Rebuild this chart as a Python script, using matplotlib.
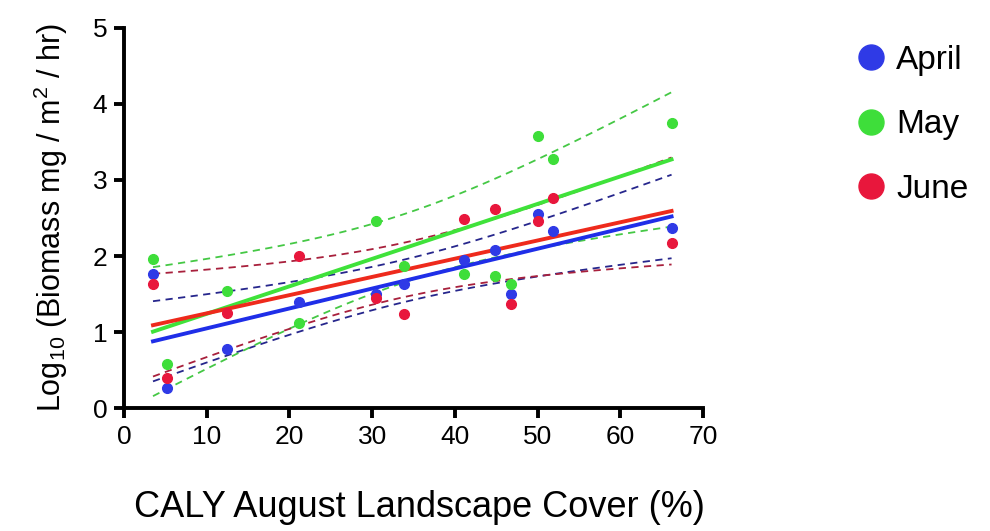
import numpy as np
import matplotlib
matplotlib.use("Agg")
import matplotlib.pyplot as plt
from matplotlib.lines import Line2D

plt.rcParams['font.family'] = ['Liberation Sans', 'DejaVu Sans']
plt.rcParams['mathtext.fontset'] = 'custom'
plt.rcParams['mathtext.rm'] = 'Liberation Sans'
plt.rcParams['mathtext.it'] = 'Liberation Sans'

# landscape cover (%) per site
cover = [3.5, 5.2, 12.5, 21.2, 30.5, 33.8, 41.1, 44.9, 46.8, 50.0, 51.9, 66.2]

# log10 biomass per month
april = [1.76, 0.26, 0.78, 1.40, 1.50, 1.63, 1.95, 2.08, 1.50, 2.55, 2.33, 2.37]
may = [1.96, 0.58, 1.54, 1.12, 2.46, 1.87, 1.76, 1.74, 1.63, 3.58, 3.28, 3.75]
june = [1.63, 0.40, 1.25, 2.00, 1.45, 1.24, 2.49, 2.62, 1.37, 2.46, 2.76, 2.17]

months = ["April", "May", "June"]
point_colors = ["#2f3ae6", "#3ede3a", "#e8173c"]
line_colors = ["#1f2ee8", "#3fe23a", "#ee2a1c"]
band_colors = ["#26268c", "#45c845", "#a8203c"]

T_975_DF10 = 2.228  # t critical value, 95%, n-2 = 10

fig = plt.figure(figsize=(9.9, 5.31), dpi=100)
ax = fig.add_axes([0.1253, 0.2316, 0.5848, 0.7157])

x = np.array(cover)
xs = np.linspace(x.min(), x.max(), 100)
for vals, lc, bc in zip([april, may, june], line_colors, band_colors):
    y = np.array(vals)
    n = len(x)
    slope, icpt = np.polyfit(x, y, 1)
    resid = y - (slope * x + icpt)
    s = np.sqrt(np.sum(resid ** 2) / (n - 2))
    sxx = np.sum((x - x.mean()) ** 2)
    fit = slope * xs + icpt
    half = T_975_DF10 * s * np.sqrt(1 / n + (xs - x.mean()) ** 2 / sxx)
    ax.plot(xs, fit + half, color=bc, lw=1.3, ls=(0, (4, 3)), zorder=2)
    ax.plot(xs, fit - half, color=bc, lw=1.3, ls=(0, (4, 3)), zorder=2)
    ax.plot(xs, fit, color=lc, lw=2.8, zorder=3)

for vals, pc in zip([april, may, june], point_colors):
    ax.plot(cover, vals, 'o', color=pc, ms=7, zorder=4)

ax.set_xlim(0, 70)
ax.set_ylim(0, 5)
ax.set_xticks(range(0, 71, 10))
ax.set_yticks(range(0, 6))
for side in ['top', 'right']:
    ax.spines[side].set_visible(False)
for side in ['left', 'bottom']:
    ax.spines[side].set_linewidth(2.8)
ax.tick_params(direction='out', length=7, width=2.8, labelsize=19, pad=5)

ax.set_xlabel("CALY August Landscape Cover (%)", fontsize=26, labelpad=24)
ax.xaxis.set_label_coords(0.51, -0.215)
ax.set_ylabel(r"Log$_{10}$ (Biomass mg / m$^2$ / hr)", fontsize=22, labelpad=16)

handles = [Line2D([], [], marker='o', ls='', color=c, ms=18) for c in point_colors]
fig.legend(handles, months, loc='upper left', bbox_to_anchor=(0.833, 0.972),
           frameon=False, fontsize=24, handletextpad=0.25, labelspacing=1.0,
           handlelength=1.0)

fig.savefig("out.png", dpi=100)
